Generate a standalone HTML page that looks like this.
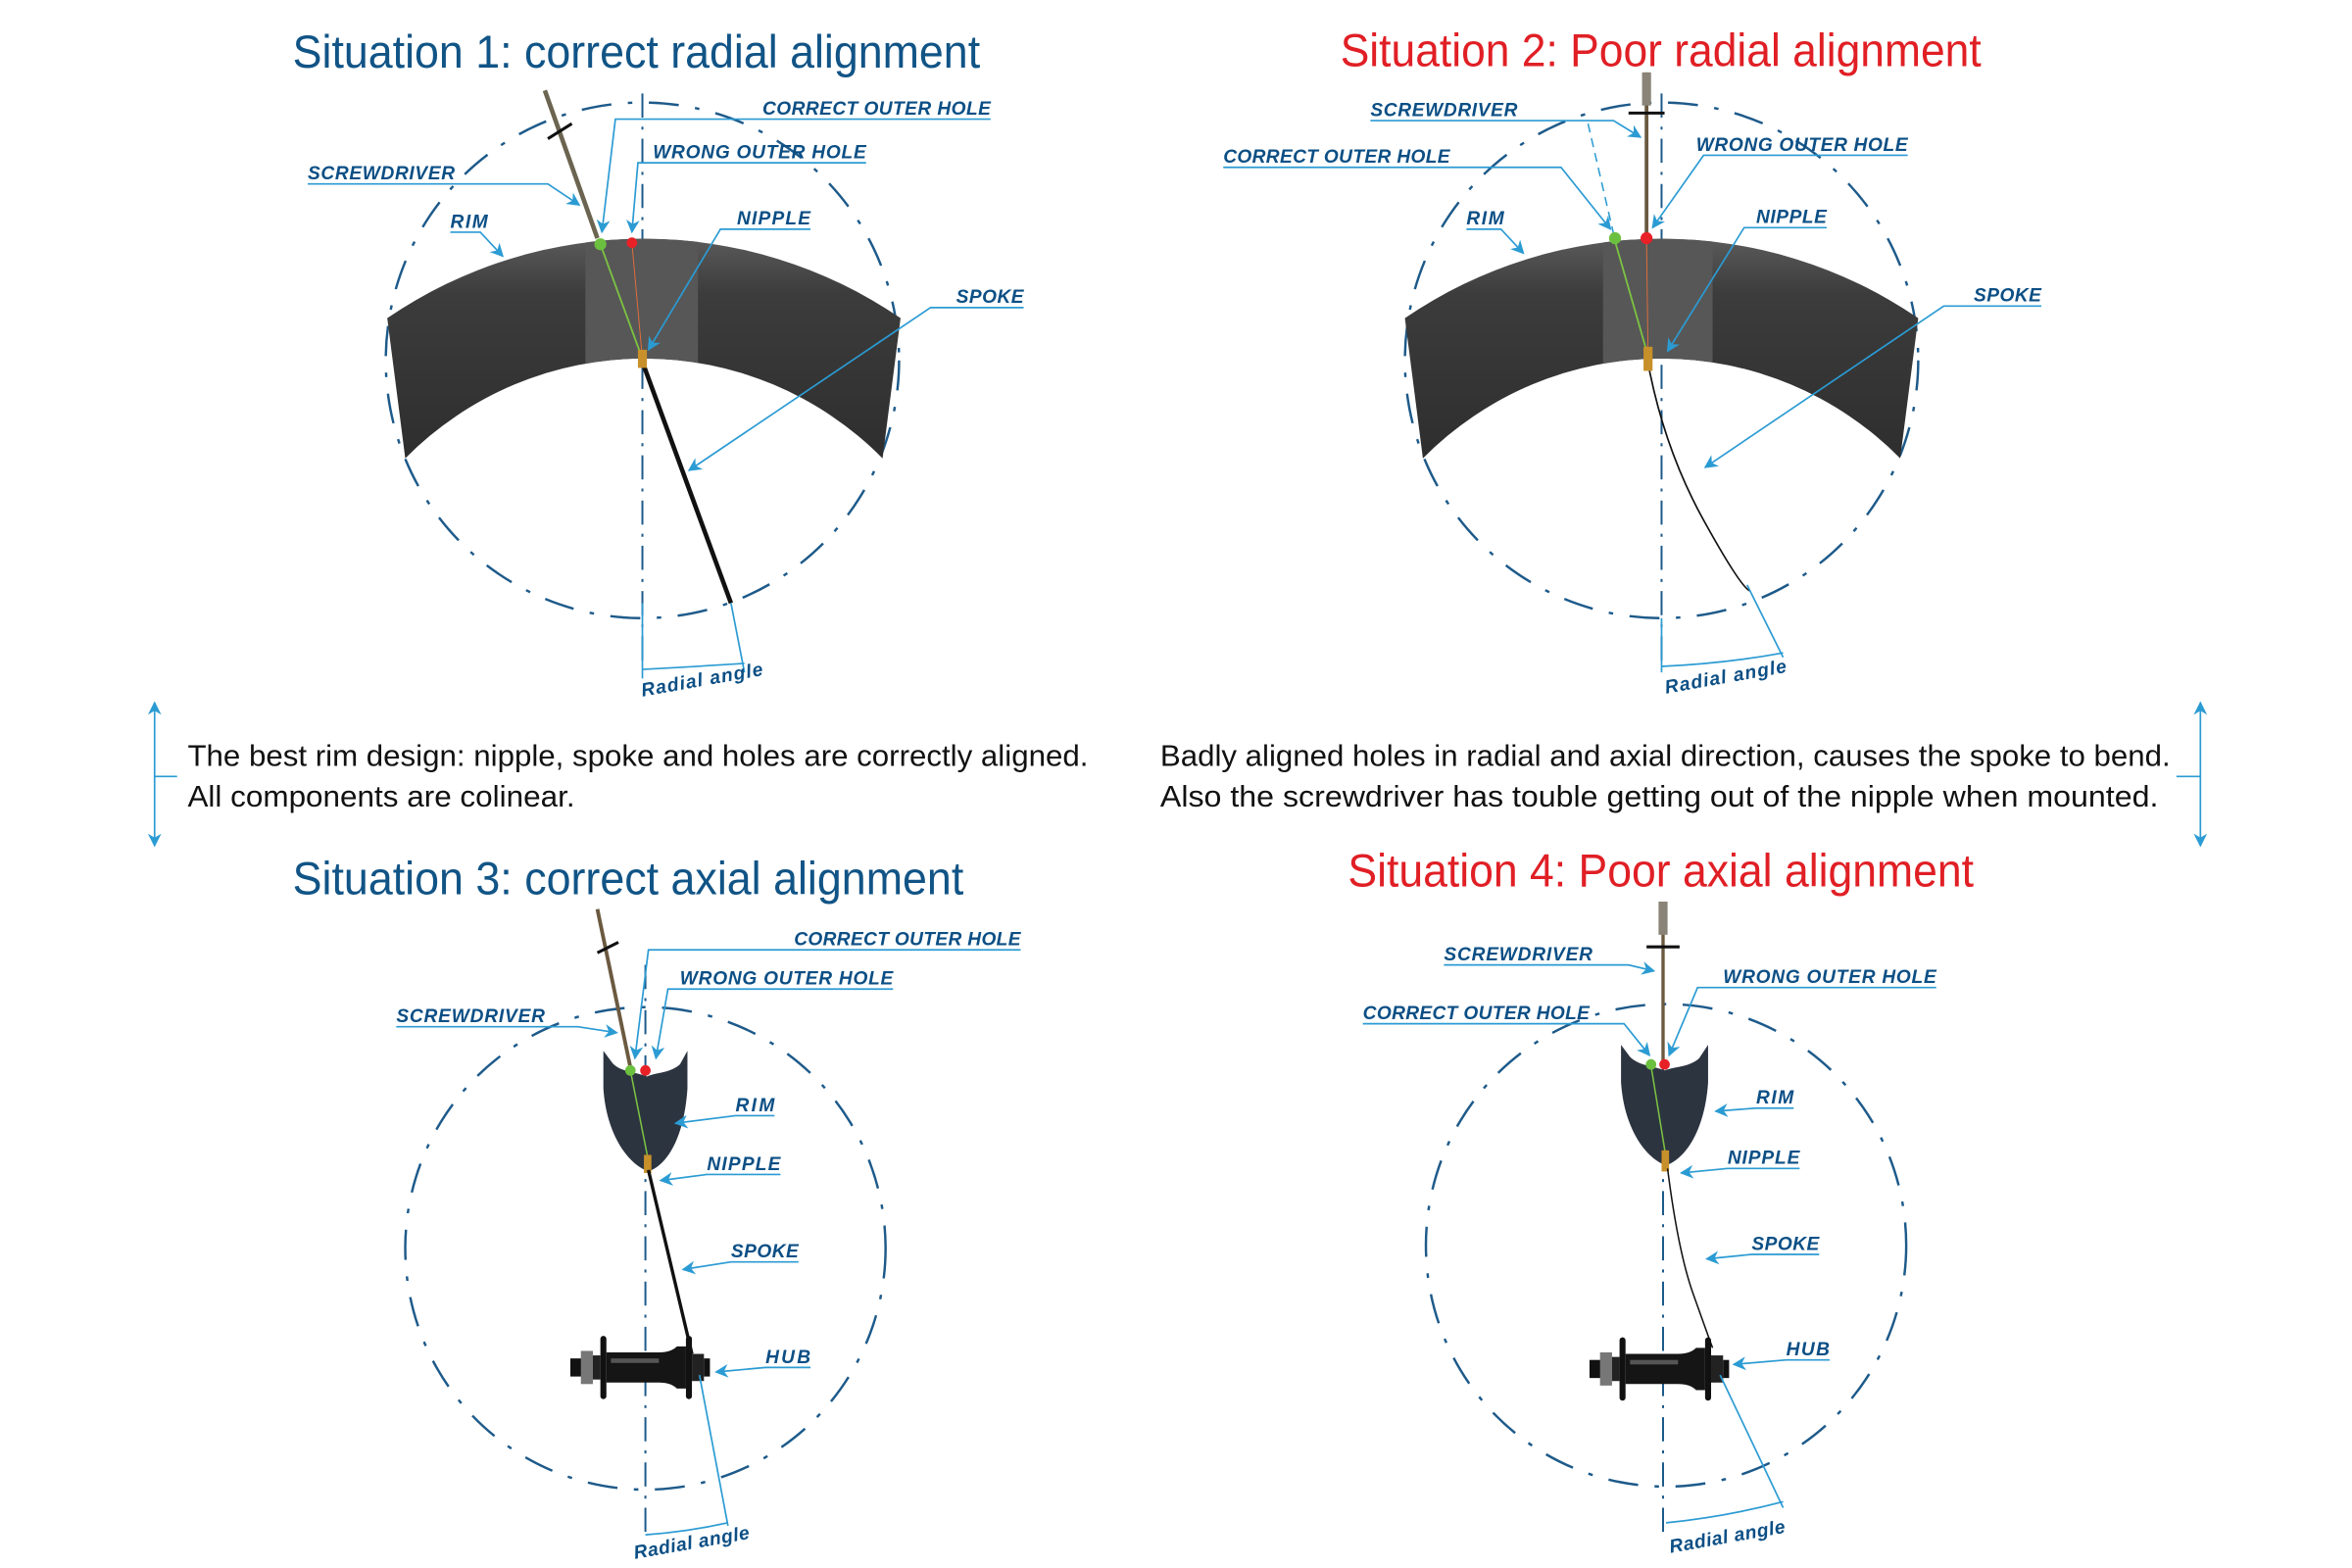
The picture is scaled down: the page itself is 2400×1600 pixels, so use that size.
<!DOCTYPE html>
<html><head><meta charset="utf-8"><style>
html,body{margin:0;padding:0;background:#fff;}
svg{display:block;}
.t{font-family:"Liberation Sans",sans-serif;font-size:31px;}
.lb{font-family:"Liberation Sans",sans-serif;font-size:12.5px;font-weight:bold;font-style:italic;fill:#0c4f85;}
.p{font-family:"Liberation Sans",sans-serif;font-size:20px;fill:#111;}
.ld{fill:none;stroke:#2b9bd3;stroke-width:1.1;}
.c{fill:none;stroke:#1d5a8a;stroke-width:1.6;stroke-dasharray:20 11 3 11;}
.v{stroke:#1d5a8a;stroke-width:1.3;stroke-dasharray:16 6 2 6;}
</style></head><body>
<svg width="2400" height="1600" viewBox="0 0 1567 1040" preserveAspectRatio="none" xmlns="http://www.w3.org/2000/svg">
<defs>
<marker id="a" viewBox="0 0 10 10" refX="9" refY="5" markerWidth="9" markerHeight="9" orient="auto-start-reverse" markerUnits="userSpaceOnUse"><path d="M0,0 L10,5 L0,10 L3,5 Z" fill="#2b9bd3"/></marker>
<linearGradient id="rg" x1="0" y1="0" x2="0" y2="1"><stop offset="0" stop-color="#5a5a5a"/><stop offset="0.25" stop-color="#3c3c3c"/><stop offset="1" stop-color="#2e2e2e"/></linearGradient>
<clipPath id="c1"><path d="M258,211 A304,304 0 0 1 600,211 L588,304 A224,224 0 0 0 270,304 Z"/></clipPath>
<clipPath id="c2"><path d="M936,211 A304,304 0 0 1 1278,211 L1266,304 A224,224 0 0 0 948,304 Z"/></clipPath>
<g id="hub">
<rect x="-47" y="-6" width="8" height="12" fill="#111"/>
<rect x="-40" y="-11" width="8" height="22" fill="#777"/>
<rect x="-32" y="-8" width="5" height="16" fill="#222"/>
<rect x="-27" y="-21" width="4" height="42" rx="2" fill="#111"/>
<path d="M-23,-10 L12,-10 Q20,-10 24,-14 L30,-14 L30,14 L24,14 Q20,10 12,10 L-23,10 Z" fill="#151515"/>
<rect x="-20" y="-6" width="32" height="3" fill="#555"/>
<rect x="30" y="-21" width="4" height="42" rx="2" fill="#111"/>
<rect x="34" y="-9" width="8" height="18" fill="#222"/>
<rect x="42" y="-6" width="4" height="12" fill="#111"/>
</g>
</defs>
<rect width="1567" height="1040" fill="#fff"/>

<text class="t" x="195" y="45" textLength="458" lengthAdjust="spacingAndGlyphs" fill="#115486">Situation 1: correct radial alignment</text>
<text class="t" x="893" y="44" textLength="427" lengthAdjust="spacingAndGlyphs" fill="#e01f25">Situation 2: Poor radial alignment</text>
<text class="t" x="195" y="593" textLength="447" lengthAdjust="spacingAndGlyphs" fill="#115486">Situation 3: correct axial alignment</text>
<text class="t" x="898" y="588" textLength="417" lengthAdjust="spacingAndGlyphs" fill="#e01f25">Situation 4: Poor axial alignment</text>

<text class="p" x="125" y="508" textLength="600" lengthAdjust="spacingAndGlyphs">The best rim design: nipple, spoke and holes are correctly aligned.</text>
<text class="p" x="125" y="535" textLength="258" lengthAdjust="spacingAndGlyphs">All components are colinear.</text>
<text class="p" x="773" y="508" textLength="673" lengthAdjust="spacingAndGlyphs">Badly aligned holes in radial and axial direction, causes the spoke to bend.</text>
<text class="p" x="773" y="535" textLength="665" lengthAdjust="spacingAndGlyphs">Also the screwdriver has touble getting out of the nipple when mounted.</text>
<line class="ld" x1="103" y1="466" x2="103" y2="561" marker-start="url(#a)" marker-end="url(#a)"/>
<line class="ld" x1="103" y1="515" x2="118" y2="515"/>
<line class="ld" x1="1466" y1="466" x2="1466" y2="561" marker-start="url(#a)" marker-end="url(#a)"/>
<line class="ld" x1="1450" y1="515" x2="1466" y2="515"/>

<!-- Situation 1 -->
<circle class="c" cx="428" cy="239" r="171"/>
<line class="v" x1="428" y1="62" x2="428" y2="442"/>
<path d="M258,211 A304,304 0 0 1 600,211 L588,304 A224,224 0 0 0 270,304 Z" fill="url(#rg)"/>
<g clip-path="url(#c1)"><rect x="390" y="150" width="75" height="100" fill="#575757"/></g>
<line x1="363" y1="60" x2="398" y2="158" stroke="#6b6450" stroke-width="3"/>
<line x1="365" y1="92" x2="381" y2="82" stroke="#111" stroke-width="2"/>
<line x1="400" y1="162" x2="428" y2="238" stroke="#7cc242" stroke-width="1.2"/>
<line x1="421" y1="161" x2="428" y2="238" stroke="#e8703a" stroke-width="0.6"/>
<circle cx="400" cy="162" r="4" fill="#6cc040"/>
<circle cx="421" cy="161" r="3.5" fill="#e82127"/>
<line x1="428" y1="240" x2="487" y2="400" stroke="#111" stroke-width="3"/>
<rect x="425" y="232" width="6" height="12" fill="#c8902a"/>
<line class="ld" x1="487" y1="400" x2="496" y2="446" stroke-width="0.8"/>
<line class="ld" x1="428" y1="400" x2="428" y2="450" stroke-width="0.8"/>
<path class="ld" d="M428,444 Q465,442 496,440" stroke-width="0.8"/>
<text class="lb" x="428" y="462" transform="rotate(-10 428 462)" textLength="82">Radial angle</text>

<text class="lb" x="508" y="76" textLength="152">CORRECT OUTER HOLE</text>
<polyline class="ld" points="660,79 410,79 401,154" marker-end="url(#a)"/>
<text class="lb" x="435" y="105" textLength="142">WRONG OUTER HOLE</text>
<polyline class="ld" points="577,108 425,108 421,154" marker-end="url(#a)"/>
<text class="lb" x="205" y="119" textLength="98">SCREWDRIVER</text>
<polyline class="ld" points="205,122 365,122 386,136" marker-end="url(#a)"/>
<text class="lb" x="300" y="151" textLength="25">RIM</text>
<polyline class="ld" points="300,154 320,154 335,170" marker-end="url(#a)"/>
<text class="lb" x="491" y="149" textLength="49">NIPPLE</text>
<polyline class="ld" points="540,152 480,152 432,232" marker-end="url(#a)"/>
<text class="lb" x="637" y="201" textLength="45">SPOKE</text>
<polyline class="ld" points="682,204 620,204 459,312" marker-end="url(#a)"/>

<!-- Situation 2 -->
<circle class="c" cx="1107" cy="239" r="171"/>
<line class="v" x1="1107" y1="62" x2="1107" y2="442"/>
<path d="M936,211 A304,304 0 0 1 1278,211 L1266,304 A224,224 0 0 0 948,304 Z" fill="url(#rg)"/>
<g clip-path="url(#c2)"><rect x="1068" y="150" width="73" height="100" fill="#575757"/></g>
<line x1="1058" y1="82" x2="1075" y2="155" stroke="#2b9bd3" stroke-width="1" stroke-dasharray="6 4"/>
<line x1="1097" y1="48" x2="1097" y2="156" stroke="#6b5a40" stroke-width="2.5"/>
<rect x="1094" y="48" width="6" height="22" fill="#8a8478"/>
<line x1="1085" y1="75" x2="1109" y2="75" stroke="#111" stroke-width="2"/>
<line x1="1076" y1="160" x2="1098" y2="236" stroke="#7cc242" stroke-width="1.2"/>
<line x1="1097" y1="160" x2="1098" y2="236" stroke="#e8703a" stroke-width="0.6"/>
<circle cx="1076" cy="158" r="4" fill="#6cc040"/>
<circle cx="1097" cy="158" r="4" fill="#e82127"/>
<rect x="1095" y="230" width="6" height="16" fill="#c8902a"/>
<path d="M1099,246 Q1110,300 1135,345 T1166,392" fill="none" stroke="#111" stroke-width="1.1"/>
<line class="ld" x1="1164" y1="388" x2="1188" y2="436" stroke-width="0.8"/>
<line class="ld" x1="1107" y1="410" x2="1107" y2="446" stroke-width="0.8"/>
<path class="ld" d="M1107,442 Q1150,440 1188,433" stroke-width="0.8"/>
<text class="lb" x="1110" y="460" transform="rotate(-10 1110 460)" textLength="82">Radial angle</text>

<text class="lb" x="913" y="77" textLength="98">SCREWDRIVER</text>
<polyline class="ld" points="913,80 1075,80 1093,91" marker-end="url(#a)"/>
<text class="lb" x="815" y="108" textLength="151">CORRECT OUTER HOLE</text>
<polyline class="ld" points="815,111 1040,111 1073,152" marker-end="url(#a)"/>
<text class="lb" x="1130" y="100" textLength="141">WRONG OUTER HOLE</text>
<polyline class="ld" points="1271,103 1135,103 1101,151" marker-end="url(#a)"/>
<text class="lb" x="977" y="149" textLength="25">RIM</text>
<polyline class="ld" points="977,152 1000,152 1015,168" marker-end="url(#a)"/>
<text class="lb" x="1170" y="148" textLength="47">NIPPLE</text>
<polyline class="ld" points="1217,151 1162,151 1111,233" marker-end="url(#a)"/>
<text class="lb" x="1315" y="200" textLength="45">SPOKE</text>
<polyline class="ld" points="1360,203 1295,203 1136,310" marker-end="url(#a)"/>

<!-- Situation 3 -->
<circle class="c" cx="430" cy="828" r="160"/>
<line class="v" x1="430" y1="640" x2="430" y2="1022"/>
<path d="M402,697 L402,722 C404,752 418,772 432,777 C446,772 456,752 458,722 L458,697 L453,706 C446,712 438,711 431,714 C424,711 413,711 408,705 Z" fill="#2c3440"/>
<line x1="398" y1="603" x2="420" y2="708" stroke="#6b5a40" stroke-width="2.5"/>
<line x1="398" y1="632" x2="412" y2="625" stroke="#111" stroke-width="2"/>
<line x1="420" y1="710" x2="432" y2="770" stroke="#7cc242" stroke-width="1"/>
<circle cx="420" cy="710" r="3.5" fill="#6cc040"/>
<circle cx="430" cy="710" r="3.5" fill="#e82127"/>
<rect x="429" y="766" width="5" height="12" fill="#c8902a"/>
<line x1="432" y1="776" x2="461" y2="898" stroke="#111" stroke-width="2.2"/>
<use href="#hub" x="427" y="907"/>
<line class="ld" x1="466" y1="912" x2="485" y2="1012" stroke-width="0.8"/>
<path class="ld" d="M430,1018 Q458,1016 485,1010" stroke-width="0.8"/>
<text class="lb" x="423" y="1034" transform="rotate(-10 423 1034)" textLength="78">Radial angle</text>

<text class="lb" x="529" y="627" textLength="151">CORRECT OUTER HOLE</text>
<polyline class="ld" points="680,630 432,630 423,702" marker-end="url(#a)"/>
<text class="lb" x="453" y="653" textLength="142">WRONG OUTER HOLE</text>
<polyline class="ld" points="595,656 445,656 437,702" marker-end="url(#a)"/>
<text class="lb" x="264" y="678" textLength="99">SCREWDRIVER</text>
<polyline class="ld" points="264,681 385,681 411,685" marker-end="url(#a)"/>
<text class="lb" x="490" y="737" textLength="26">RIM</text>
<polyline class="ld" points="516,740 490,740 450,745" marker-end="url(#a)"/>
<text class="lb" x="471" y="776" textLength="49">NIPPLE</text>
<polyline class="ld" points="520,779 471,779 440,783" marker-end="url(#a)"/>
<text class="lb" x="487" y="834" textLength="45">SPOKE</text>
<polyline class="ld" points="532,837 487,837 455,842" marker-end="url(#a)"/>
<text class="lb" x="510" y="904" textLength="30">HUB</text>
<polyline class="ld" points="540,907 510,907 477,910" marker-end="url(#a)"/>

<!-- Situation 4 -->
<circle class="c" cx="1110" cy="826" r="160"/>
<line class="v" x1="1108" y1="640" x2="1108" y2="1020"/>
<path d="M1080,693 L1080,718 C1082,748 1096,768 1110,773 C1124,768 1136,748 1138,718 L1138,693 L1132,702 C1125,708 1117,707 1109,710 C1102,707 1092,707 1086,701 Z" fill="#2c3440"/>
<line x1="1108" y1="598" x2="1108" y2="704" stroke="#6b5a40" stroke-width="2.2"/>
<rect x="1105" y="598" width="6" height="22" fill="#8a8478"/>
<line x1="1097" y1="628" x2="1119" y2="628" stroke="#111" stroke-width="2"/>
<line x1="1100" y1="707" x2="1110" y2="768" stroke="#7cc242" stroke-width="1"/>
<circle cx="1100" cy="706" r="3.5" fill="#6cc040"/>
<circle cx="1109" cy="706" r="3.5" fill="#e82127"/>
<rect x="1107" y="763" width="5" height="14" fill="#c8902a"/>
<path d="M1111,775 Q1118,830 1128,858 T1141,894" fill="none" stroke="#111" stroke-width="1"/>
<use href="#hub" x="1106" y="908"/>
<line class="ld" x1="1146" y1="912" x2="1188" y2="1000" stroke-width="0.8"/>
<path class="ld" d="M1110,1010 Q1150,1006 1188,996" stroke-width="0.8"/>
<text class="lb" x="1113" y="1030" transform="rotate(-10 1113 1030)" textLength="78">Radial angle</text>

<text class="lb" x="962" y="637" textLength="99">SCREWDRIVER</text>
<polyline class="ld" points="962,640 1085,640 1102,644" marker-end="url(#a)"/>
<text class="lb" x="1148" y="652" textLength="142">WRONG OUTER HOLE</text>
<polyline class="ld" points="1290,655 1131,655 1112,700" marker-end="url(#a)"/>
<text class="lb" x="908" y="676" textLength="151">CORRECT OUTER HOLE</text>
<polyline class="ld" points="908,679 1082,679 1099,700" marker-end="url(#a)"/>
<text class="lb" x="1170" y="732" textLength="25">RIM</text>
<polyline class="ld" points="1195,735 1170,735 1143,737" marker-end="url(#a)"/>
<text class="lb" x="1151" y="772" textLength="48">NIPPLE</text>
<polyline class="ld" points="1199,775 1151,775 1120,778" marker-end="url(#a)"/>
<text class="lb" x="1167" y="829" textLength="45">SPOKE</text>
<polyline class="ld" points="1212,832 1167,832 1137,835" marker-end="url(#a)"/>
<text class="lb" x="1190" y="899" textLength="29">HUB</text>
<polyline class="ld" points="1219,902 1190,902 1155,905" marker-end="url(#a)"/>
</svg>
</body></html>
